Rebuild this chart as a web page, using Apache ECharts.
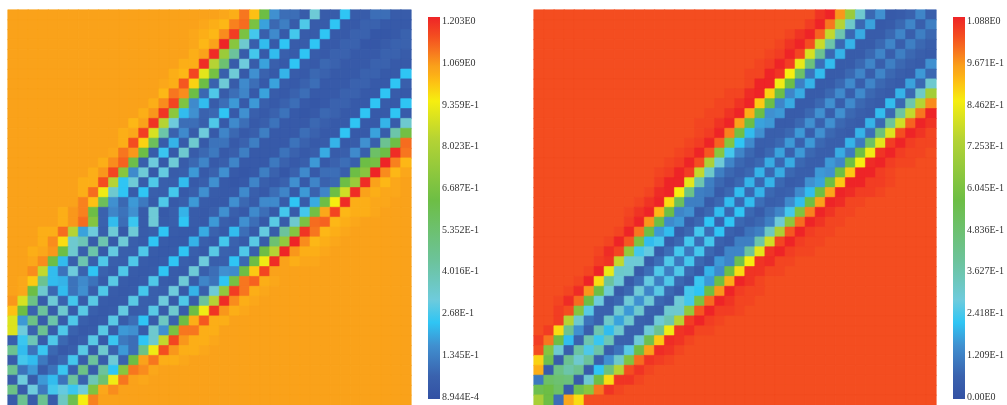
<!DOCTYPE html>
<html><head><meta charset="utf-8">
<style>html,body{margin:0;padding:0;background:#fff;overflow:hidden}#c{width:1007px;height:405px}</style>
<script src="https://cdn.jsdelivr.net/npm/echarts@6/dist/echarts.min.js"></script>
</head><body><div id="c"></div>
<script>
// Each row lists its first non-background column, then the cells from there.
const leftBackground = 87;
const rightBackground = 95;
const leftTicks = ['8.944E-4','1.345E-1','2.68E-1','4.016E-1','5.352E-1','6.687E-1','8.023E-1','9.359E-1','1.069E0','1.203E0'];
const rightTicks = ['0.00E0','1.209E-1','2.418E-1','3.627E-1','4.836E-1','6.045E-1','7.253E-1','8.462E-1','9.671E-1','1.088E0'];
const leftRows = [
[20,87,86,85,91,83,52,14,8,8,4,27,4,4,20,4,4,8,8,4,4],
[19,86,85,84,90,92,55,16,7,11,4,23,4,4,20,3,3,6,6,3,3,3],
[18,86,85,84,89,97,55,22,5,13,3,22,4,4,20,3,3,6,6,2,2,3,6],
[18,86,84,87,100,58,28,5,19,3,20,4,4,20,3,3,6,6,2,2,4,6,6],
[18,85,87,99,62,36,4,22,3,19,5,4,20,4,3,6,6,3,3,3,6,6,4],
[17,85,85,99,68,44,4,26,4,16,5,3,20,4,3,7,6,3,3,3,6,6,3,3],
[16,85,84,96,75,54,5,27,3,14,6,3,18,4,3,7,6,3,3,3,6,6,3,3,20],
[15,86,85,94,81,52,6,27,4,13,8,3,16,4,3,6,8,3,3,3,6,6,3,3,20,5],
[15,84,91,89,52,7,23,4,8,12,3,16,4,3,6,8,3,3,3,6,6,3,3,20,4,3],
[14,85,89,96,56,13,19,4,8,15,3,15,5,3,6,8,3,2,3,6,6,3,3,20,4,3,20],
[13,85,88,98,59,19,14,6,7,20,3,14,5,3,6,9,3,2,3,7,6,3,3,20,3,3,20,4],
[12,84,87,98,68,26,8,8,5,23,3,13,8,3,5,9,3,3,3,7,5,3,3,20,3,3,18,4,28],
[11,85,86,97,73,34,6,13,4,26,3,12,7,3,5,11,3,3,3,8,6,3,3,20,3,3,16,4,34,53],
[11,85,95,81,48,4,18,4,28,3,9,9,3,6,11,3,3,3,9,6,3,4,18,3,4,14,5,38,52,92],
[10,86,91,88,52,4,21,3,28,4,7,10,3,5,11,3,3,3,9,6,3,5,17,4,5,13,5,46,52,99,91],
[9,85,89,93,51,5,26,3,27,4,7,12,3,5,12,3,3,3,10,6,3,5,15,3,6,8,5,52,54,100,90,84],
[8,85,88,96,58,13,27,3,25,4,5,15,3,6,14,3,2,3,11,6,2,6,13,3,8,8,5,52,58,100,89,84,86],
[7,85,85,95,68,20,27,4,23,5,5,19,3,5,14,3,2,3,12,5,3,6,14,3,12,6,7,52,62,99,87,84,86,87],
[7,85,92,77,28,20,4,20,5,5,22,3,5,14,4,3,3,13,5,3,8,12,3,15,6,12,52,72,99,87,85,86,86,87],
[7,90,83,48,14,7,15,10,4,23,3,5,15,4,3,3,14,7,4,13,13,4,20,4,17,52,78,99,85,85,86,86,87,87],
[5,85,88,90,52,6,12,9,14,4,27,3,5,18,4,3,5,14,5,3,13,8,3,22,4,22,53,86,96,84,85,85,86],
[5,85,88,92,57,6,19,8,21,4,27,4,5,20,4,3,15,5,3,14,8,3,24,4,28,55,92,93,84,85,86],
[3,85,85,92,68,16,26,5,27,3,27,4,5,20,4,3,3,17,6,3,19,8,4,25,4,36,57,98,91,84,85,86],
[3,85,89,80,28,32,4,33,3,27,5,4,20,4,3,3,18,5,3,22,6,4,24,4,44,60,100,89,84,85,86],
[2,85,86,88,52,28,5,34,3,25,5,5,23,4,3,4,20,5,3,24,6,5,23,5,52,68,100,88,85,85,86],
[2,86,89,52,19,5,33,5,23,5,5,23,4,3,4,20,5,4,26,5,5,20,7,52,77,99,87,85,86,86],
[2,89,70,19,9,26,6,20,6,4,23,4,3,4,20,4,4,27,5,8,14,13,52,82,96,87,87],
[1,86,82,38,19,18,9,13,9,4,24,4,3,4,23,4,4,27,4,12,9,20,54,91,93,85,86],
[1,86,52,28,7,19,9,14,5,23,4,3,4,22,5,5,26,3,18,5,27,60,97,91,85,86],
[0,88,73,40,4,27,6,22,4,24,4,3,4,24,5,5,26,3,23,4,36,68,99,89,85,86],
[0,83,52,6,36,4,28,4,24,5,3,4,25,4,5,24,4,28,4,52,77,98,88,85,86],
[0,74,15,40,4,34,4,23,5,3,4,24,4,8,20,4,30,6,52,85,94,85,85],
[0,74,26,6,38,4,23,6,3,4,24,4,15,14,4,28,14,55,91,91,85,85],
[0,5,21,32,4,23,7,3,5,24,3,21,10,8,20,28,70,96,88,85,85,86],
[0,38,19,9,21,7,3,5,24,3,28,6,15,8,40,77,95,88,85,85,86],
[0,4,22,19,10,4,7,22,4,36,4,27,6,52,87,91,85,85,86],
[0,38,9,15,4,9,21,5,40,4,36,20,58,91,89,86],
[0,4,26,4,15,19,9,36,6,32,44,77,91,87,86],
[0,40,4,26,10,22,25,21,26,56,86,89],
[0,4,38,4,38,4,30,50,78,90]
];
const rightRows = [
[28,98,100,88,62,28,7,14,3,4,6,12,5],
[27,97,100,91,68,29,7,16,3,4,7,12,5,11],
[25,96,98,100,93,70,33,7,17,4,4,7,12,5,11,7],
[24,96,98,100,95,71,34,7,18,4,4,7,12,5,11,7,5],
[23,96,97,100,96,73,38,7,18,4,4,7,12,5,11,7,5,4],
[22,96,97,100,97,76,42,8,19,4,4,7,12,5,11,7,5,4,14],
[21,96,96,100,98,78,46,9,19,4,4,7,12,5,12,7,5,4,15,7],
[21,96,100,100,77,52,11,18,4,4,7,13,5,12,7,5,4,16,7,28],
[19,96,96,99,100,81,52,12,17,4,4,7,13,5,13,7,5,4,18,7,29,64],
[18,96,96,98,100,82,52,12,17,4,4,7,14,5,13,7,5,4,19,7,33,68,89],
[17,96,96,98,100,85,52,14,15,4,4,7,14,5,14,7,5,4,19,7,35,70,91,100],
[16,96,96,98,100,87,52,16,15,4,4,7,14,6,14,7,5,4,18,7,36,72,93,100,98],
[16,96,97,100,90,53,19,14,5,5,7,15,5,14,7,5,4,18,8,42,74,95,100,98,96],
[15,96,97,100,93,57,20,13,5,5,7,15,6,15,7,5,5,18,10,46,75,97,100,97,96,96],
[14,96,97,100,94,58,22,12,7,4,7,16,6,15,7,5,5,17,10,52,77,98,100,97,96,96],
[13,96,97,100,95,66,27,12,7,5,7,17,7,17,7,5,5,15,12,52,78,99,100,97,96,96],
[12,96,97,100,97,70,29,11,7,5,7,18,7,17,7,5,5,15,14,52,82,100,100,97,96],
[12,97,100,100,75,33,11,7,4,7,18,7,18,7,4,5,14,16,52,82,100,100,97,97,96],
[11,96,99,100,78,40,11,10,4,7,19,7,18,7,5,6,13,19,52,86,100,99,97,97,96],
[10,96,98,100,80,48,11,11,4,7,19,7,19,8,5,6,13,19,52,87,100,99,96,96],
[9,96,98,100,84,52,12,14,4,7,19,7,20,7,4,8,12,22,56,90,100,98,96,96],
[9,97,100,88,52,13,15,4,7,20,6,20,7,5,7,11,27,59,92,100,98,96,96],
[8,96,100,91,52,15,19,4,7,22,8,20,6,4,9,11,30,66,94,100,97,96,96],
[7,96,100,94,55,19,22,4,7,22,8,22,6,4,11,11,34,72,96,100,97,96,96],
[6,96,99,96,60,22,25,4,8,22,10,22,7,4,12,12,36,75,98,100,97,96,96],
[6,97,98,70,27,27,4,8,23,10,22,7,4,15,12,50,78,98,99,96,96],
[5,96,100,76,29,28,4,8,23,11,23,7,4,18,13,52,80,98,98,96,96],
[4,96,100,80,36,27,4,8,25,11,23,7,4,21,15,52,85,100,98,96],
[3,96,99,88,52,27,4,7,27,12,24,7,4,22,20,52,88,100,97,96,96],
[2,96,99,92,52,26,5,7,27,14,27,7,5,27,22,55,92,100,98,96,96],
[2,97,95,57,24,6,6,28,15,28,6,5,28,28,60,94,100,97,97,96],
[2,97,68,28,9,6,29,16,28,6,5,27,33,68,97,100,97,96],
[1,97,80,38,14,5,33,19,28,6,6,27,38,77,98,99,96,96],
[0,97,91,52,19,6,33,21,32,6,6,27,50,82,99,98,96],
[0,95,57,28,5,35,23,34,5,9,24,52,87,99,98,96],
[0,81,50,4,38,28,36,5,14,29,56,92,98,97,96],
[0,85,4,40,34,38,4,20,42,68,95,98,96],
[0,10,46,44,42,4,28,52,80,98,98,96],
[0,50,52,46,4,50,58,91,98,96],
[0,65,52,8,86,80,95]
];
const colourStops = [[0,'#3351a3'],[6,'#3a62ae'],[14,'#4090d0'],[20,'#2fc5f4'],[26,'#6ecbdc'],[36,'#6cc39c'],[52,'#6dbe45'],[68,'#b5d334'],[78,'#f6ee10'],[83,'#fdc014'],[85,'#fcae17'],[86,'#fba71a'],[87,'#faa21a'],[91,'#f7761f'],[95,'#f44d20'],[100,'#ee2427']];
const N = 40;
const hex = s => [1,3,5].map(i => parseInt(s.substr(i,2),16));
const palette = [];
for (let p = 0; p <= 100; p++) {
  let k = 0; while (k < colourStops.length - 2 && colourStops[k+1][0] < p) k++;
  const [a, ca] = colourStops[k], [b, cb] = colourStops[k+1], t = (p-a)/(b-a);
  const A = hex(ca), B = hex(cb);
  palette.push('rgb(' + A.map((v,i) => Math.round(v+(B[i]-v)*t)).join(',') + ')');
}
function cells(rows, bg) {
  const out = [];
  for (let r = 0; r < N; r++) {
    const row = rows[r], start = row[0];
    for (let c = 0; c < N; c++) {
      const i = c - start + 1;
      const v = (i >= 1 && i < row.length) ? row[i] : bg;
      out.push({value:[c, r, v], itemStyle:{borderColor:palette[v], borderWidth:0.6}});
    }
  }
  return out;
}
const idx = Array.from({length:N}, (_,i) => String(i));
function hiddenCat(gridIndex, inverse) {
  return {type:'category', data:idx, gridIndex, show:false, inverse:!!inverse};
}
function tickAxis(gridIndex, labels) {
  return {type:'value', gridIndex, position:'right', min:0, max:9, interval:1,
    axisLine:{show:false}, axisTick:{show:false}, splitLine:{show:false},
    axisLabel:{show:true, margin:2, color:'#333', fontFamily:'"Liberation Serif"', fontSize:10,
      showMinLabel:true, showMaxLabel:true, formatter:v => labels[Math.round(v)]}};
}
function vm(seriesIndex) {
  return {type:'continuous', seriesIndex, min:0, max:100, show:false, inRange:{color:palette}};
}
function colourBar(x) {
  return {type:'rect', left:x, top:17, shape:{width:12, height:382}, silent:true,
    style:{fill:new echarts.graphic.LinearGradient(0,1,0,0, colourStops.map(([p,color]) => ({offset:p/100, color})))}};
}
const chart = echarts.init(document.getElementById('c'), null, {renderer:'canvas'});
chart.setOption({
  animation:false, backgroundColor:'#fff',
  grid:[
    {left:8, top:10, width:403, height:401},
    {left:534, top:10, width:402, height:401},
    {left:430, top:21.5, width:10, height:375.5},
    {left:955, top:21.5, width:10, height:375.5}
  ],
  xAxis:[hiddenCat(0), hiddenCat(1), {type:'value',gridIndex:2,show:false}, {type:'value',gridIndex:3,show:false}],
  yAxis:[hiddenCat(0,true), hiddenCat(1,true), tickAxis(2,leftTicks), tickAxis(3,rightTicks)],
  visualMap:[vm(0), vm(1)],
  graphic:[colourBar(428), colourBar(953)],
  series:[
    {type:'heatmap', xAxisIndex:0, yAxisIndex:0, data:cells(leftRows,leftBackground), progressive:0, silent:true},
    {type:'heatmap', xAxisIndex:1, yAxisIndex:1, data:cells(rightRows,rightBackground), progressive:0, silent:true}
  ]
});
</script></body></html>
